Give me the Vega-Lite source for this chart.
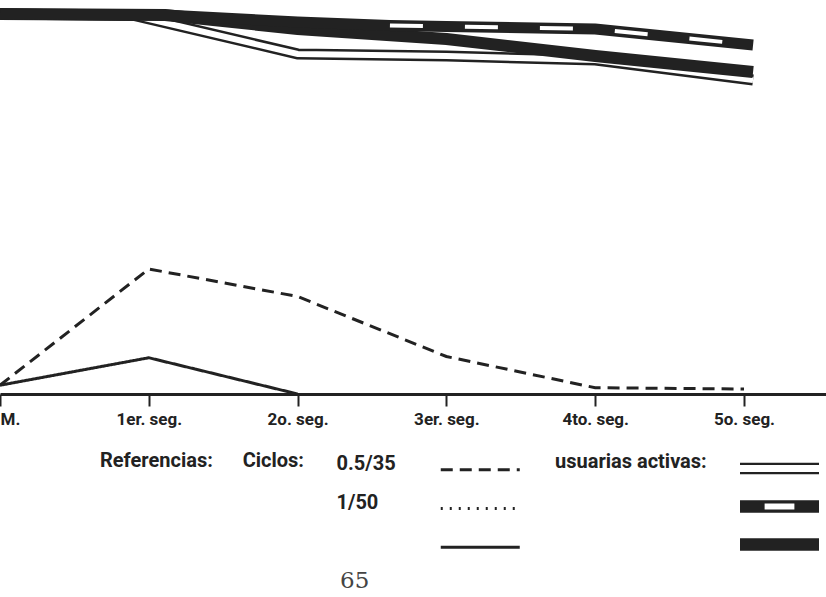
{
  "$schema": "https://vega.github.io/schema/vega-lite/v6.json",
  "width": 826,
  "height": 597,
  "autosize": {"type": "none"},
  "padding": 0,
  "background": "white",
  "config": {"view": {"stroke": null}, "legend": {"padding": 0}},
  "title": {"text": "65", "orient": "bottom", "frame": "group", "anchor": "start", "dx": 340, "offset": -9, "baseline": "alphabetic", "font": "DejaVu Serif", "fontSize": 23, "fontWeight": "normal", "color": "#444"},
  "datasets": {
    "usuarias": [
      {"serie": "doble", "seg": 0, "activas": 100},
      {"serie": "doble", "seg": 0.9, "activas": 98},
      {"serie": "doble", "seg": 2, "activas": 47.4},
      {"serie": "doble", "seg": 3, "activas": 44.7},
      {"serie": "doble", "seg": 4, "activas": 39.5},
      {"serie": "doble", "seg": 5.06, "activas": 13.2},
      {"serie": "solida", "seg": 0, "activas": 100},
      {"serie": "solida", "seg": 1.11, "activas": 98.7},
      {"serie": "solida", "seg": 2, "activas": 80.3},
      {"serie": "solida", "seg": 3, "activas": 67.1},
      {"serie": "solida", "seg": 4, "activas": 44.7},
      {"serie": "solida", "seg": 5.06, "activas": 23.7},
      {"serie": "discontinua", "seg": 0, "activas": 100},
      {"serie": "discontinua", "seg": 1.11, "activas": 98.7},
      {"serie": "discontinua", "seg": 2, "activas": 89.5},
      {"serie": "discontinua", "seg": 2.62, "activas": 84.9},
      {"serie": "discontinua", "seg": 3, "activas": 83.6},
      {"serie": "discontinua", "seg": 4, "activas": 80.3},
      {"serie": "discontinua", "seg": 5.06, "activas": 59.2}
    ],
    "ciclos": [
      {"ciclo": "0.5/35", "seg": "M.", "valor": 7},
      {"ciclo": "0.5/35", "seg": "1er. seg.", "valor": 100},
      {"ciclo": "0.5/35", "seg": "2o. seg.", "valor": 78},
      {"ciclo": "0.5/35", "seg": "3er. seg.", "valor": 30},
      {"ciclo": "0.5/35", "seg": "4to. seg.", "valor": 5},
      {"ciclo": "0.5/35", "seg": "5o. seg.", "valor": 4},
      {"ciclo": "otro", "seg": "M.", "valor": 7},
      {"ciclo": "otro", "seg": "1er. seg.", "valor": 29},
      {"ciclo": "otro", "seg": "2o. seg.", "valor": 0}
    ]
  },
  "layer": [
    {
      "data": {"name": "usuarias"},
      "encoding": {
        "x": {"field": "seg", "type": "quantitative", "scale": {"domain": [0, 5.55], "nice": false, "zero": false}, "axis": null},
        "y": {"field": "activas", "type": "quantitative", "scale": {"domain": [0, 100], "range": [90, 14], "nice": false, "zero": false}, "axis": null}
      },
      "layer": [
        {"transform": [{"filter": "datum.serie == 'doble'"}], "mark": {"type": "line", "color": "#222", "strokeWidth": 11, "strokeCap": "butt", "strokeJoin": "miter"}},
        {"transform": [{"filter": "datum.serie == 'doble'"}], "mark": {"type": "line", "color": "white", "strokeWidth": 6, "strokeCap": "butt", "strokeJoin": "miter"}},
        {"transform": [{"filter": "datum.serie == 'solida'"}], "mark": {"type": "line", "color": "#222", "strokeWidth": 12, "strokeCap": "butt", "strokeJoin": "miter"}},
        {"transform": [{"filter": "datum.serie == 'discontinua'"}], "mark": {"type": "line", "color": "#222", "strokeWidth": 11, "strokeCap": "butt", "strokeJoin": "miter"}},
        {"transform": [{"filter": "datum.serie == 'discontinua' && datum.seg >= 2.62"}], "mark": {"type": "line", "color": "white", "strokeWidth": 4, "strokeCap": "butt", "strokeDash": [33, 42]}},
        {
          "mark": {"type": "point", "filled": true, "opacity": 0, "color": "#222"},
          "encoding": {
            "shape": {
              "field": "serie", "type": "nominal",
              "scale": {"domain": ["doble", "discontinua", "solida"], "range": ["M-1,-0.143H1V-0.091H-1Z M-1,0.091H1V0.143H-1Z", "M-1,-0.156H1V0.156H-1Z M-0.377,-0.078V0.078H0.377V-0.078Z", "M-1,-0.156H1V0.156H-1Z"]},
              "legend": {
                "orient": "none", "legendX": 555, "legendY": 449.5,
                "title": "usuarias activas:", "titleOrient": "left", "titleAnchor": "start", "titleFont": "Roboto", "titleFontSize": 20, "titleFontWeight": "bold", "titleColor": "#222", "titlePadding": 33, "titleBaseline": "line-top", "titleLineHeight": 23.4, "titleLimit": 400,
                "labelExpr": "''", "labelOffset": 0,
                "symbolSize": 6241, "symbolFillColor": "#222", "symbolStrokeWidth": 0, "symbolOpacity": 1,
                "clipHeight": 38, "rowPadding": 0
              }
            }
          }
        }
      ]
    },
    {
      "data": {"name": "ciclos"},
      "mark": {"type": "line", "color": "#222", "strokeWidth": 3, "strokeCap": "butt", "strokeJoin": "miter"},
      "encoding": {
        "x": {
          "field": "seg", "type": "nominal", "sort": null,
          "scale": {"type": "point", "domain": ["M.", "1er. seg.", "2o. seg.", "3er. seg.", "4to. seg.", "5o. seg."], "padding": 0.2755, "align": 0},
          "axis": {"title": null, "orient": "bottom", "offset": -203, "domainColor": "#222", "domainWidth": 3, "domainCap": "butt", "tickColor": "#222", "tickWidth": 2, "tickSize": 12, "labelFont": "Roboto", "labelFontWeight": "bold", "labelFontSize": 17, "labelColor": "#222", "labelPadding": 5, "labelFlush": true, "labelOverlap": false, "labelAngle": 0, "grid": false}
        },
        "y": {"field": "valor", "type": "quantitative", "scale": {"domain": [0, 100], "range": [394, 269], "nice": false, "zero": false}, "axis": null},
        "strokeDash": {
          "field": "ciclo", "type": "nominal",
          "scale": {"domain": ["0.5/35", "1/50", "otro"], "range": [[12, 7], [2, 7], [1, 0]]},
          "legend": {
            "orient": "none", "legendX": 100, "legendY": 448.25,
            "title": "Referencias:\u00a0\u00a0\u00a0\u00a0\u00a0\u00a0Ciclos:", "titleOrient": "left", "titleAnchor": "start", "titleFont": "Roboto", "titleFontSize": 20, "titleFontWeight": "bold", "titleColor": "#222", "titlePadding": 154.75, "titleBaseline": "line-top", "titleLineHeight": 25.9, "titleLimit": 400,
            "labelExpr": "datum.label == 'otro' ? '\u00a0' : datum.label", "labelFont": "Roboto", "labelFontSize": 20, "labelFontWeight": "bold", "labelColor": "#222", "labelAlign": "left", "labelBaseline": "alphabetic", "labelOffset": -165.25,
            "symbolType": "M-2,0H2", "symbolSize": 1560.25, "symbolStrokeWidth": 3, "symbolStrokeColor": "#222",
            "rowPadding": 10.75
          }
        }
      }
    }
  ],
  "resolve": {"scale": {"x": "independent", "y": "independent"}}
}
